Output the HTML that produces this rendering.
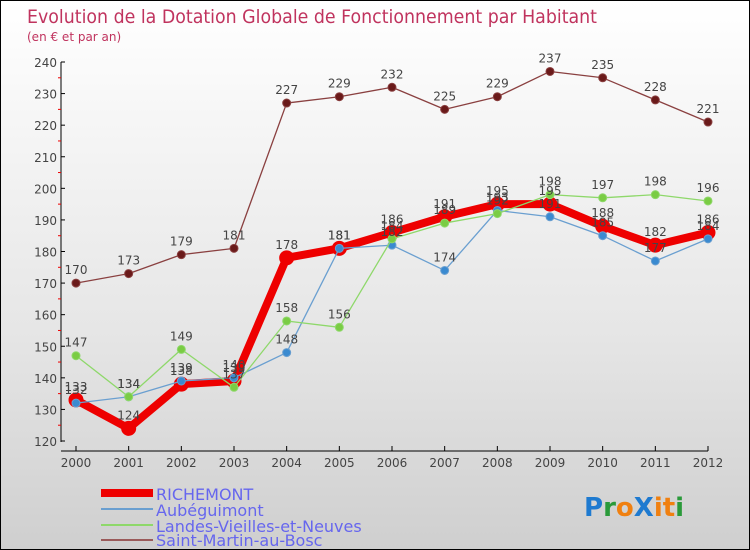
<!DOCTYPE html>
<html><head><meta charset="utf-8"><style>
body{margin:0}
#c{width:750px;height:550px;position:relative;overflow:hidden;background:linear-gradient(#ffffff,#e6e6e6 60%,#cfcfcf);border:1px solid #000;box-sizing:border-box;font-family:"DejaVu Sans","Liberation Sans",sans-serif}
svg text{font-family:"DejaVu Sans","Liberation Sans",sans-serif}
</style></head><body>
<div id="c">
<svg id="s" width="750" height="550">
<text x="26" y="22" font-size="19" fill="#c0335e" textLength="570" lengthAdjust="spacingAndGlyphs">Evolution de la Dotation Globale de Fonctionnement par Habitant</text>
<text x="26" y="40" font-size="12" fill="#c0335e">(en € et par an)</text>
<g id="ax"></g><g id="lines"></g><g id="labels"></g>
<g>
<line x1="100" y1="492" x2="152" y2="492" stroke="#e00" stroke-width="8"/>
<text x="155" y="499" font-size="16" fill="#6666ee">RICHEMONT</text>
<line x1="100" y1="508" x2="152" y2="508" stroke="#6a9fd0" stroke-width="2"/>
<text x="155" y="515" font-size="16" fill="#6666ee">Aubéguimont</text>
<line x1="100" y1="524" x2="152" y2="524" stroke="#8ed86a" stroke-width="2"/>
<text x="155" y="531" font-size="16" fill="#6666ee">Landes-Vieilles-et-Neuves</text>
<line x1="100" y1="539" x2="152" y2="539" stroke="#9a5a5a" stroke-width="2"/>
<text x="155" y="545" font-size="16" fill="#6666ee">Saint-Martin-au-Bosc</text>
</g>
<g font-size="26" font-weight="bold">
<text x="583" y="515"><tspan fill="#1e7ad0">P</tspan><tspan fill="#2a9a3a">r</tspan><tspan fill="#f08010">o</tspan><tspan fill="#1e7ad0">X</tspan><tspan fill="#f08010">i</tspan><tspan fill="#f08010">t</tspan><tspan fill="#2a9a3a">i</tspan></text>
</g>
</svg>
</div>
<script>
const years=[2000,2001,2002,2003,2004,2005,2006,2007,2008,2009,2010,2011,2012];
const yTicks=[120,130,140,150,160,170,180,190,200,210,220,230,240];
const richemont=[133,124,138,139,178,181,186,191,195,195,188,182,186];
const aubeguimont=[132,134,139,140,148,181,182,174,193,191,185,177,184];
const landes=[147,134,149,137,158,156,184,189,192,198,197,198,196];
const saintMartin=[170,173,179,181,227,229,232,225,229,237,235,228,221];
const NS="http://www.w3.org/2000/svg";
function X(i){return 75+i*(707-75)/12;}
function Y(v){return 440-(v-120)*(440-61)/120;}
function mk(t,a,p){const e=document.createElementNS(NS,t);for(const k in a)e.setAttribute(k,a[k]);p.appendChild(e);return e;}
const ax=document.getElementById('ax'),L=document.getElementById('lines'),T=document.getElementById('labels');
let e=mk('line',{x1:60,y1:61,x2:60,y2:441,stroke:'#000'},ax);


e=mk('line',{x1:60,y1:450,x2:707,y2:450,stroke:'#000'},ax);


yTicks.forEach(v=>{mk('line',{x1:60,y1:Y(v),x2:64,y2:Y(v),stroke:'#000'},ax);
 if(v<240)mk('line',{x1:57,y1:Y(v+5),x2:60,y2:Y(v+5),stroke:'#e00'},ax);
 const t=mk('text',{x:56,y:Y(v)+5,'text-anchor':'end','font-size':12,fill:'#444'},ax);t.textContent=v;
 
 });
years.forEach((y,i)=>{mk('line',{x1:X(i),y1:445,x2:X(i),y2:450,stroke:'#000'},ax);
 const t=mk('text',{x:X(i),y:466,'text-anchor':'middle','font-size':12,fill:'#444'},ax);t.textContent=y;
 
 });
function series(d,col,w,r,dot,name){
 const p=mk('polyline',{points:d.map((v,i)=>X(i)+','+Y(v)).join(' '),fill:'none',stroke:col,'stroke-width':w,'stroke-linejoin':'round'},L);
 
 
 d.forEach((v,i)=>{const c=mk('circle',{cx:X(i),cy:Y(v),r:r,fill:dot,stroke:col,'stroke-width':1},L);
  
  
  const t=mk('text',{x:X(i),y:Y(v)-9,'text-anchor':'middle','font-size':12,fill:'#444'},T);t.textContent=v;
  
  });
}
series(richemont,'#ee0000',8,7,'#ee0000','richemont');
series(aubeguimont,'#6a9fd0',1.3,4,'#3a8ad0','aubeguimont');
series(landes,'#8ed86a',1.3,4,'#7acc44','landes');
series(saintMartin,'#8a4040',1.3,4,'#6a1a1a','saint-martin');
</script>
</body></html>
